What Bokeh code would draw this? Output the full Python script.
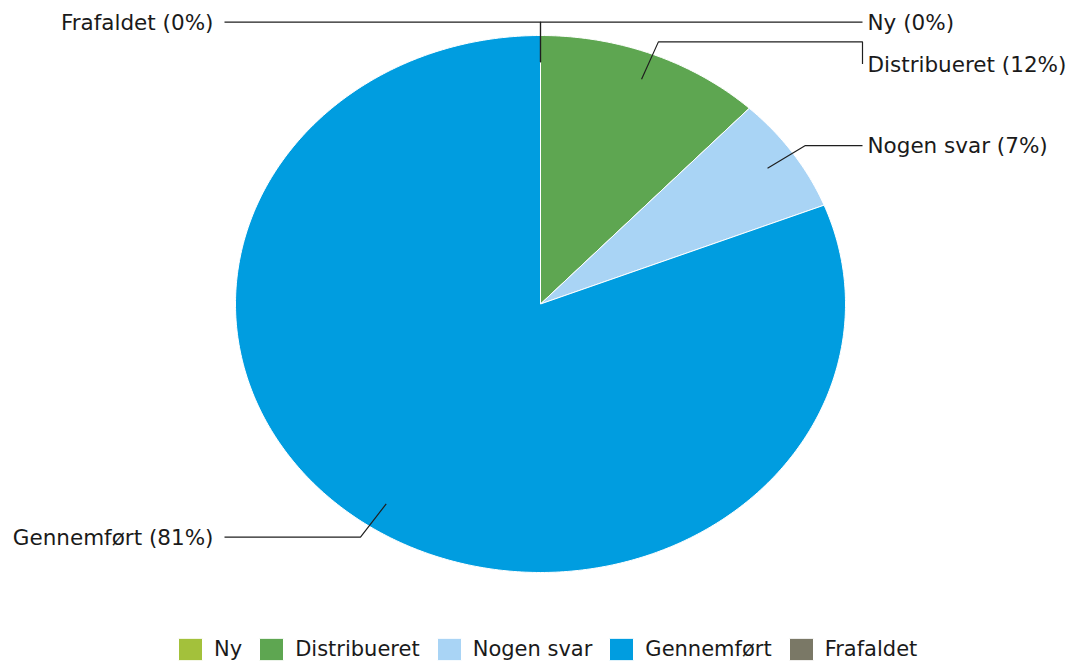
import numpy as np
from bokeh.plotting import figure
from bokeh.models import Range1d, Legend, LegendItem
from bokeh.core.properties import value
from bokeh.embed import file_html
from bokeh.resources import INLINE

# ---- data ----
categories = ["Ny", "Distribueret", "Nogen svar", "Gennemført", "Frafaldet"]
percents = [0, 12, 7, 81, 0]
colors = ["#A3C13B", "#5EA651", "#A9D4F5", "#009DE0", "#7A7866"]

FONT = "DejaVu Sans"
FSIZE = "21.5px"
LSIZE = "21px"

W, H = 1072, 663
p = figure(width=W, height=H, x_range=Range1d(0, W), y_range=Range1d(H, 0),
           min_border=0, toolbar_location=None, output_backend="svg")
p.axis.visible = False
p.grid.visible = False
p.outline_line_color = None

# pie geometry (screen-like units, y downward)
cx, cy, rx, ry = 540, 303.5, 305, 268.5
total = float(sum(percents))

renderers = []
slices = []
acc = 0.0
for name, pct, col in zip(categories, percents, colors):
    a0 = 2 * np.pi * acc / total
    a1 = 2 * np.pi * (acc + pct) / total
    n = max(2, int((a1 - a0) / (2 * np.pi) * 500) + 2)
    t = np.linspace(a0, a1, n)
    xs = [cx] + list(cx + rx * np.sin(t))
    ys = [cy] + list(cy - ry * np.cos(t))
    r = p.patch(xs, ys, fill_color=col, line_color="white", line_width=1)
    renderers.append(r)
    slices.append((name, pct, (a0 + a1) / 2))
    acc += pct

# leader lines and labels
gap = 42
right_x_line, right_x_text = 862, 867
left_x_line, left_x_text = 224, 213
items = []
for name, pct, m in slices:
    sx = cx + 0.9 * rx * np.sin(m)
    sy = cy - 0.9 * ry * np.cos(m)
    ex = cx + 1.05 * rx * np.sin(m)
    ey = cy - 1.05 * ry * np.cos(m)
    side = "right" if m < np.pi else "left"
    items.append(dict(label=f"{name} ({pct}%)", sx=sx, sy=sy, ex=ex, ey=ey, side=side))

for side in ("right", "left"):
    grp = sorted([d for d in items if d["side"] == side], key=lambda d: d["ey"])
    prev = -1e9
    for d in grp:
        d["ly"] = max(d["ey"], prev + gap)
        prev = d["ly"]

line_xs, line_ys = [], []
for d in items:
    xl = right_x_line if d["side"] == "right" else left_x_line
    line_xs.append([d["sx"], d["ex"], xl, xl])
    line_ys.append([d["sy"], d["ey"], d["ey"], d["ly"]])
p.multi_line(line_xs, line_ys, line_color="#1f1f1f", line_width=1.2)

R = [d for d in items if d["side"] == "right"]
L = [d for d in items if d["side"] == "left"]
p.text(x=[right_x_text] * len(R), y=[d["ly"] for d in R], text=[d["label"] for d in R],
       text_font=value(FONT), text_font_size=FSIZE, text_align="left",
       text_baseline="middle", text_color="#1a1a1a")
p.text(x=[left_x_text] * len(L), y=[d["ly"] for d in L], text=[d["label"] for d in L],
       text_font=value(FONT), text_font_size=FSIZE, text_align="right",
       text_baseline="middle", text_color="#1a1a1a")

# legend glyph for areas is inset 10% on each side -> 30x28 box gives ~24x22 square
legend = Legend(items=[LegendItem(label=n, renderers=[r]) for n, r in zip(categories, renderers)],
                orientation="horizontal", location=(175, 0),
                glyph_width=30, glyph_height=28, label_standoff=9, spacing=14,
                padding=0, margin=0, border_line_color=None, background_fill_alpha=0,
                label_text_font=FONT, label_text_font_size=LSIZE, label_height=28,
                label_text_color="#1a1a1a")
p.add_layout(legend)

open("out.html", "w").write(file_html(p, INLINE))
